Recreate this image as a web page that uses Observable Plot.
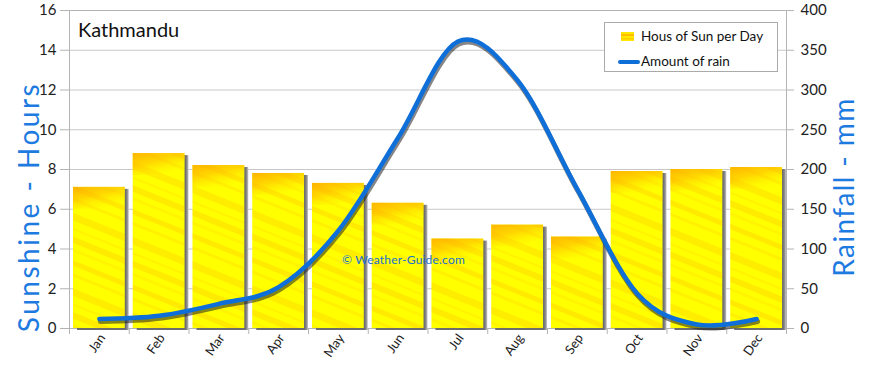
<!DOCTYPE html>
<html>
<head>
<meta charset="utf-8">
<script src="https://cdn.jsdelivr.net/npm/d3@7"></script>
<script src="https://cdn.jsdelivr.net/npm/@observablehq/plot@0.6"></script>
<style>
  html, body { margin: 0; padding: 0; background: #fff; }
  #wrap { position: relative; width: 870px; height: 368px; font-family: Lato, "Open Sans", sans-serif; }
  .ov { position: absolute; white-space: nowrap; }
  #city { left: 78px; top: 17px; font-size: 20px; color: #111; }
  #wm { left: 342px; top: 252px; font-size: 12px; color: #1a6fd0; letter-spacing: 0.2px; }
  .ytitle { font-size: 28px; line-height: 34px; height: 34px; width: 300px; text-align: center; color: #1d7ae0; transform-origin: 150px 17px; transform: rotate(-90deg); }
  #lt { left: -122px; top: 190px; letter-spacing: 2.5px; }
  #rt { left: 693px; top: 170px; letter-spacing: 1.4px; }
  #legend { left: 604px; top: 22px; width: 174px; height: 50px; border: 1px solid #aaa; background: #fff; box-sizing: border-box; font-size: 13.5px; color: #111; }
</style>
</head>
<body>
<div id="wrap"></div>
<script>
const months = ["Jan","Feb","Mar","Apr","May","Jun","Jul","Aug","Sep","Oct","Nov","Dec"];
const sunHours = [7.1, 8.8, 8.2, 7.8, 7.3, 6.3, 4.5, 5.2, 4.6, 7.9, 8.0, 8.1];
const rainMm = [12, 16, 31, 52, 123, 240, 361, 312, 175, 44, 5, 12];
const leftTicks = [0, 2, 4, 6, 8, 10, 12, 14, 16];
const rainPerHour = 25;

const data = months.map((m, i) => ({month: m, sun: sunHours[i], rain: rainMm[i]}));

const chart = Plot.plot({
  width: 870,
  height: 368,
  marginLeft: 69,
  marginRight: 84,
  marginTop: 10,
  marginBottom: 40,
  style: {fontFamily: "Lato, 'Open Sans', sans-serif", fontSize: "14px", color: "#333", background: "#fff", overflow: "visible"},
  x: {domain: months, paddingInner: 0.1333, paddingOuter: 0.0667, round: false, label: null},
  y: {domain: [0, 16], label: null},
  marks: [
    Plot.gridY(leftTicks, {stroke: "#c8c8c8", strokeOpacity: 1}),
    Plot.frame({stroke: "#b4b4b4"}),
    Plot.axisY(leftTicks, {anchor: "left", tickSize: 9, tickPadding: 4, stroke: "#b4b4b4", fill: "#222", fontSize: 15, label: null}),
    Plot.axisY(leftTicks, {anchor: "right", tickSize: 7, tickPadding: 7, stroke: "#b4b4b4", fill: "#222", fontSize: 15, tickFormat: d => d * rainPerHour, label: null}),
    Plot.axisX({tickSize: 6, text: null, dx: -29.875, stroke: "#b4b4b4"}),
    Plot.axisX(["Dec"], {tickSize: 6, text: null, dx: 29.875, stroke: "#b4b4b4"}),
    Plot.axisX({tickSize: 0, tickRotate: -55, tickPadding: 7, dx: 3, fill: "#222", fontSize: 13, label: null}),
    Plot.barY(data, {x: "month", y: "sun", fill: "url(#shadowGrad)", dx: 4, dy: 2}),
    Plot.barY(data, {x: "month", y: "sun", fill: "#ffff00"}),
    Plot.barY(data, {x: "month", y: "sun", fill: "url(#streaks)"}),
    Plot.barY(data, {x: "month", y1: d => d.sun - 1.1, y2: "sun", fill: "url(#topGrad)"}),
    Plot.line(data, {x: "month", y: d => d.rain / rainPerHour, stroke: "#222", strokeOpacity: 0.55, strokeWidth: 5, dx: 1, dy: 2.5, curve: "cardinal", tension: 0}),
    Plot.line(data, {x: "month", y: d => d.rain / rainPerHour, stroke: "#0f6fd8", strokeWidth: 4.5, curve: "cardinal", tension: 0})
  ]
});

const svg = d3.select(chart);
const defs = svg.insert("defs", ":first-child");
const sg = defs.append("linearGradient").attr("id", "shadowGrad").attr("x1", 0).attr("x2", 1).attr("y1", 0).attr("y2", 0);
sg.append("stop").attr("offset", "0%").attr("stop-color", "#6e6e6e");
sg.append("stop").attr("offset", "94%").attr("stop-color", "#6e6e6e");
sg.append("stop").attr("offset", "97%").attr("stop-color", "#8c8c8c");
sg.append("stop").attr("offset", "100%").attr("stop-color", "#c8c8c8");

const tg = defs.append("linearGradient").attr("id", "topGrad").attr("x1", 0).attr("y1", 0).attr("x2", 0.6).attr("y2", 1);
tg.append("stop").attr("offset", "0%").attr("stop-color", "#ffa800").attr("stop-opacity", 0.85);
tg.append("stop").attr("offset", "45%").attr("stop-color", "#ffb400").attr("stop-opacity", 0.55);
tg.append("stop").attr("offset", "100%").attr("stop-color", "#ffe000").attr("stop-opacity", 0);

const pat = defs.append("pattern").attr("id", "streaks").attr("patternUnits", "userSpaceOnUse")
  .attr("width", 140).attr("height", 70).attr("patternTransform", "rotate(22)");
[[4, 5, 0.22], [16, 3, 0.14], [30, 7, 0.18], [44, 2, 0.12], [52, 6, 0.2], [63, 3, 0.1]].forEach(([y, h, o]) => {
  pat.append("rect").attr("x", 0).attr("y", y).attr("width", 140).attr("height", h).attr("fill", "#ff9d00").attr("opacity", o);
});

const wrap = document.getElementById("wrap");
wrap.appendChild(chart);
wrap.insertAdjacentHTML("beforeend", `
  <div class="ov" id="city">Kathmandu</div>
  <div class="ov" id="wm">© Weather-Guide.com</div>
  <div class="ov ytitle" id="lt">Sunshine - Hours</div>
  <div class="ov ytitle" id="rt">Rainfall - mm</div>
  <div class="ov" id="legend">
    <svg width="172" height="48" style="position:absolute;left:0;top:0">
      <rect x="16" y="9" width="13" height="9" fill="#ffe800"/>
      <rect x="16" y="11" width="13" height="2" fill="#ffb000" opacity="0.8"/>
      <rect x="16" y="15" width="13" height="1.5" fill="#ffc000" opacity="0.7"/>
      <line x1="15" x2="33" y1="39" y2="39" stroke="#0f6fd8" stroke-width="4" stroke-linecap="round"/>
    </svg>
    <div style="position:absolute;left:36px;top:5px">Hous of Sun per Day</div>
    <div style="position:absolute;left:36px;top:30px">Amount of rain</div>
  </div>
`);
</script>
</body>
</html>
